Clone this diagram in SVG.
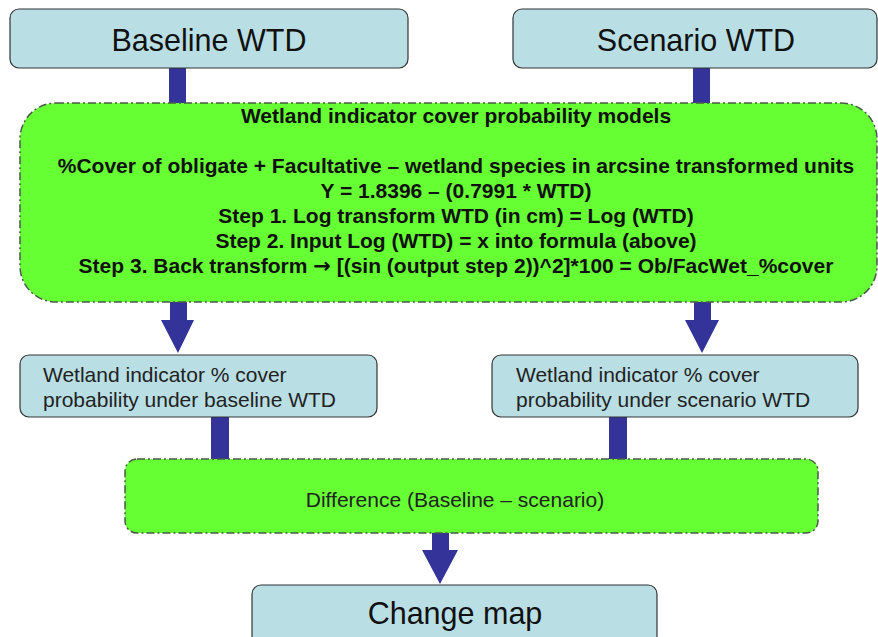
<svg xmlns="http://www.w3.org/2000/svg" width="878" height="637" viewBox="0 0 878 637">
<style>
.blue{fill:#b9dfe4;stroke:#333;stroke-width:1.2}
.green{fill:#66ff33;stroke:#4a5a4a;stroke-width:1.5;stroke-dasharray:8 3 2 3}
.conn{fill:#333399;stroke:none}
.big{font-family:"Liberation Sans",Arial,sans-serif;font-size:30.5px;fill:#111;text-anchor:middle}
.mid{font-family:"Liberation Sans",Arial,sans-serif;font-size:21px;fill:#222}
.bold{font-family:"Liberation Sans",Arial,sans-serif;font-size:21px;font-weight:bold;fill:#111;text-anchor:middle}
.arr{font-family:"DejaVu Sans",sans-serif;font-weight:bold}
</style>
<rect width="878" height="637" fill="#fff"/>
<g id="connectors">
<rect class="conn" x="169" y="67" width="17" height="38"/>
<rect class="conn" x="693" y="67" width="17" height="38"/>
<path class="conn" d="M170 300 H187 V320 H194 L178 353 L161 320 H170 Z"/>
<path class="conn" d="M694 300 H711 V320 H719 L702 353 L685 320 H694 Z"/>
<rect class="conn" x="211" y="416" width="18" height="45"/>
<rect class="conn" x="609" y="416" width="18" height="45"/>
<path class="conn" d="M432 531 H449 V550 H458 L440 584 L422 550 H432 Z"/>
</g>
<g id="baseline">
<rect class="blue" x="10" y="9" width="398" height="59" rx="9"/>
<text class="big" x="209" y="51">Baseline WTD</text>
</g>
<g id="scenario">
<rect class="blue" x="513" y="9" width="364" height="59" rx="9"/>
<text class="big" x="696" y="51">Scenario WTD</text>
</g>
<g id="models">
<rect class="green" x="20" y="103" width="857" height="199" rx="36"/>
<text class="bold" x="456" y="123">Wetland indicator cover probability models</text>
<text class="bold" x="456" y="173">%Cover of obligate + Facultative – wetland species in arcsine transformed units</text>
<text class="bold" x="456" y="198">Y = 1.8396 – (0.7991 * WTD)</text>
<text class="bold" x="456" y="223">Step 1. Log transform WTD (in cm) = Log (WTD)</text>
<text class="bold" x="456" y="248">Step 2. Input Log (WTD) = x into formula (above)</text>
<text class="bold" x="456" y="273">Step 3. Back transform <tspan class="arr">→</tspan> [(sin (output step 2))^2]*100 = Ob/FacWet_%cover</text>
</g>
<g id="baseline-prob">
<rect class="blue" x="20" y="355" width="357" height="62" rx="9"/>
<text class="mid" x="43" y="382">Wetland indicator % cover</text>
<text class="mid" x="43" y="407">probability under baseline WTD</text>
</g>
<g id="scenario-prob">
<rect class="blue" x="492" y="355" width="366" height="62" rx="9"/>
<text class="mid" x="516" y="382">Wetland indicator % cover</text>
<text class="mid" x="516" y="407">probability under scenario WTD</text>
</g>
<g id="difference">
<rect class="green" x="125" y="459" width="693" height="74" rx="12"/>
<text class="mid" x="455" y="507" text-anchor="middle">Difference (Baseline – scenario)</text>
</g>
<g id="change-map">
<rect class="blue" x="252" y="585" width="405" height="60" rx="9"/>
<text class="big" x="455" y="624">Change map</text>
</g>
</svg>
